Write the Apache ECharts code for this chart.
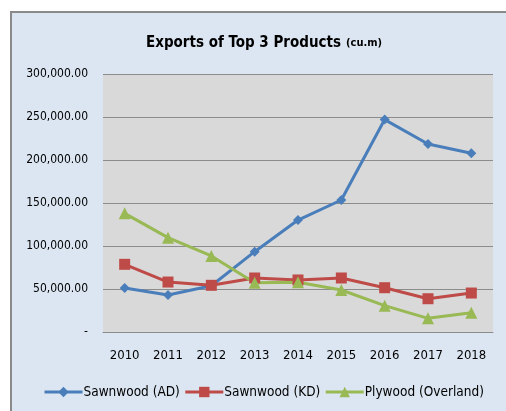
<!DOCTYPE html>
<html><head><meta charset="utf-8">
<script src="https://cdn.jsdelivr.net/npm/echarts@6/dist/echarts.min.js"></script>
<style>html,body{margin:0;padding:0;background:#fff}#c{width:506px;height:411px}</style>
</head><body><div id="c"></div>
<script>
const years = ['2010','2011','2012','2013','2014','2015','2016','2017','2018'];
const sawnwoodAD = [51200, 43000, 53800, 93400, 130200, 153500, 247000, 218600, 207800];
const sawnwoodKD = [78700, 58100, 54300, 62800, 60500, 62800, 51500, 38700, 45300];
const plywood = [138000, 109700, 88400, 57300, 57800, 48800, 30600, 15900, 22400];
const seriesNames = ['Sawnwood (AD)', 'Sawnwood (KD)', 'Plywood (Overland)'];

const font = '"DejaVu Sans Condensed", "Liberation Sans Narrow", sans-serif';
const chart = echarts.init(document.getElementById('c'));
function fmt(v){
  if (v === 0) return '-';
  return v.toLocaleString('en-US',{minimumFractionDigits:2,maximumFractionDigits:2});
}
function mk(name, data, color, symbol, size){
  return {name, type:'line', data, symbol, symbolSize:size,
    lineStyle:{color, width:3}, itemStyle:{color}, showSymbol:true};
}
chart.setOption({
  animation:false,
  graphic:[{type:'rect', shape:{x:11,y:12,width:510,height:420}, style:{fill:'#dce6f2', stroke:'#8a8a8a', lineWidth:2}, z:-10}],
  title:{left:259, top:29, textAlign:'center',
    text:'{a|Exports of Top 3 Products} {b|(cu.m)}',
    textStyle:{rich:{a:{fontFamily:font,fontSize:15,fontWeight:'bold',color:'#000'},
                     b:{fontFamily:font,fontSize:11,fontWeight:'bold',color:'#000'}}}},
  grid:{left:103, right:13, top:74, bottom:79, show:true, backgroundColor:'#d9d9d9', borderWidth:0},
  xAxis:{type:'category', data:years, boundaryGap:true,
    axisLine:{lineStyle:{color:'#8c8c8c', width:1}}, axisTick:{show:false},
    axisLabel:{color:'#000', fontFamily:font, fontSize:13, margin:17}},
  yAxis:{type:'value', min:0, max:300000, interval:50000,
    axisLine:{show:false}, axisTick:{show:false},
    splitLine:{lineStyle:{color:'#8c8c8c', width:1}},
    axisLabel:{color:'#000', fontFamily:font, fontSize:12, margin:15, formatter:fmt}},
  legend:{bottom:7, left:38, itemWidth:38, itemHeight:13, itemGap:4,
    lineStyle:{width:3},
    textStyle:{fontFamily:font, fontSize:13.5, color:'#000', padding:[0,0,0,-4]},
    data:seriesNames},
  series:[
    mk(seriesNames[0], sawnwoodAD, '#4a7ebb', 'diamond', 10),
    mk(seriesNames[1], sawnwoodKD, '#be4b48', 'rect', 11),
    mk(seriesNames[2], plywood, '#98b954', 'triangle', 12)
  ]
});
</script></body></html>
